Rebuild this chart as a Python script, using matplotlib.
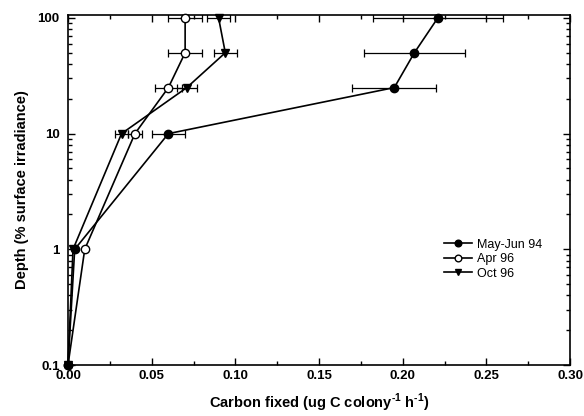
import numpy as np
import matplotlib.pyplot as plt
from matplotlib.ticker import MultipleLocator, LogLocator, FixedLocator, FixedFormatter, NullFormatter

plt.rcParams['font.family'] = ['Liberation Sans', 'DejaVu Sans']
plt.rcParams['mathtext.fontset'] = 'custom'
plt.rcParams['mathtext.rm'] = 'Liberation Sans:bold'
plt.rcParams['mathtext.bf'] = 'Liberation Sans:bold'

# profondita' (% irradianza superficiale)
depth = [100, 50, 25, 10, 1, 0.1]

# May-Jun 94
may_x = [0.221, 0.207, 0.195, 0.060, 0.004, 0.0]
may_err = [0.039, 0.030, 0.025, 0.010, 0.0, 0.0]
# Apr 96
apr_x = [0.070, 0.070, 0.060, 0.040, 0.010, 0.0]
apr_err = [0.010, 0.010, 0.008, 0.004, 0.0, 0.0]
# Oct 96
oct_x = [0.090, 0.094, 0.071, 0.032, 0.003, 0.0]
oct_err = [0.007, 0.007, 0.006, 0.004, 0.0, 0.0]

fig = plt.figure(figsize=(5.84, 4.16), dpi=100)
ax = fig.add_axes([68/584, 1-365/416, 502/584, 350/416])

kw = dict(color='black', lw=1.2, capsize=3, elinewidth=0.9, capthick=0.9)
e1 = ax.errorbar(may_x, depth, xerr=may_err, fmt='-o', mfc='black', ms=6, zorder=4, **kw)
e2 = ax.errorbar(apr_x, depth, xerr=apr_err, fmt='-o', mfc='white', ms=6, zorder=3, **kw)
e3 = ax.errorbar(oct_x, depth, xerr=oct_err, fmt='-v', mfc='black', ms=5.5, zorder=2, **kw)
for e in (e1, e2, e3):
    e[0].set_clip_on(False)

ax.set_yscale('log')
ax.set_xlim(0, 0.30)
ax.set_ylim(0.1, 106)
ax.xaxis.set_major_locator(MultipleLocator(0.05))
ax.xaxis.set_minor_locator(MultipleLocator(0.025))
ax.xaxis.set_major_formatter(plt.FuncFormatter(lambda v, p: f'{v:.2f}'))
ax.yaxis.set_major_locator(FixedLocator([0.1, 1, 10, 100]))
ax.yaxis.set_major_formatter(FixedFormatter(['0.1', '1', '10', '100']))
ax.yaxis.set_minor_locator(LogLocator(base=10, subs=np.arange(2, 10)))
ax.yaxis.set_minor_formatter(NullFormatter())

ax.tick_params(which='both', direction='in', top=True, right=True, width=1)
ax.tick_params(which='major', length=5, labelsize=9.5)
ax.tick_params(which='minor', length=3)
ax.tick_params(axis='y', which='major', pad=6)
for lab in ax.get_xticklabels() + ax.get_yticklabels():
    lab.set_fontweight('bold')
for s in ax.spines.values():
    s.set_linewidth(1.2)

ax.set_xlabel(r'Carbon fixed (ug C colony$^{\text{-1}}$ h$^{\text{-1}}$)', fontsize=10.5,
              fontweight='bold', labelpad=7)
ax.set_ylabel('Depth (% surface irradiance)', fontsize=10.5, fontweight='bold', labelpad=6)

ax.legend([e1[0], e2[0], e3[0]], ['May-Jun 94', 'Apr 96', 'Oct 96'],
          loc='upper left', bbox_to_anchor=(0.74, 0.375), frameon=False, fontsize=9,
          handlelength=2.2, handletextpad=0.4, labelspacing=0.2, borderaxespad=0,
          markerscale=0.8)

fig.savefig('out.png', dpi=100)
